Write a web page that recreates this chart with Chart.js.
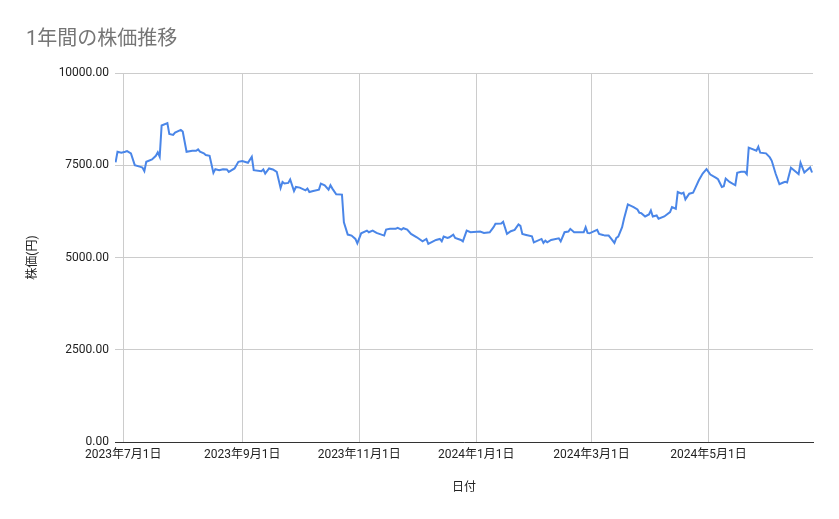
<!DOCTYPE html>
<html>
<head>
<meta charset="utf-8">
<script src="https://cdn.jsdelivr.net/npm/chart.js@4/dist/chart.umd.min.js"></script>
<style>
  html, body { margin: 0; padding: 0; background: #ffffff; }
  #wrap { width: 839px; height: 519px; }
</style>
</head>
<body>
<div id="wrap"><canvas id="c" width="839" height="519"></canvas></div>
<script>
const chartTitle = '1年間の株価推移';
const xAxisTitle = '日付';
const yAxisTitle = '株価(円)';

const dates = [
  '2023-06-27','2023-06-28','2023-06-30','2023-07-02','2023-07-03','2023-07-05','2023-07-07','2023-07-10',
  '2023-07-11','2023-07-12','2023-07-13','2023-07-16','2023-07-18','2023-07-19','2023-07-20','2023-07-21',
  '2023-07-24','2023-07-25','2023-07-27','2023-07-28','2023-07-31','2023-08-01','2023-08-03','2023-08-06',
  '2023-08-08','2023-08-09','2023-08-10','2023-08-12','2023-08-13','2023-08-15','2023-08-17','2023-08-18',
  '2023-08-20','2023-08-22','2023-08-24','2023-08-25','2023-08-28','2023-08-30','2023-09-01','2023-09-04',
  '2023-09-06','2023-09-07','2023-09-11','2023-09-12','2023-09-13','2023-09-15','2023-09-17','2023-09-19',
  '2023-09-21','2023-09-22','2023-09-23','2023-09-25','2023-09-26','2023-09-28','2023-09-29','2023-10-01',
  '2023-10-04','2023-10-05','2023-10-06','2023-10-08','2023-10-11','2023-10-12','2023-10-14','2023-10-16',
  '2023-10-17','2023-10-18','2023-10-20','2023-10-23','2023-10-24','2023-10-26','2023-10-28','2023-10-30',
  '2023-10-31','2023-11-02','2023-11-05','2023-11-06','2023-11-08','2023-11-10','2023-11-14','2023-11-15',
  '2023-11-17','2023-11-20','2023-11-21','2023-11-23','2023-11-24','2023-11-26','2023-11-28','2023-12-01',
  '2023-12-04','2023-12-06','2023-12-07','2023-12-11','2023-12-13','2023-12-14','2023-12-15','2023-12-17',
  '2023-12-18','2023-12-20','2023-12-21','2023-12-24','2023-12-25','2023-12-27','2023-12-29','2024-01-03',
  '2024-01-05','2024-01-08','2024-01-10','2024-01-11','2024-01-14','2024-01-15','2024-01-17','2024-01-19',
  '2024-01-21','2024-01-23','2024-01-24','2024-01-25','2024-01-27','2024-01-30','2024-01-31','2024-02-04',
  '2024-02-05','2024-02-06','2024-02-07','2024-02-09','2024-02-13','2024-02-14','2024-02-16','2024-02-18',
  '2024-02-19','2024-02-21','2024-02-26','2024-02-27','2024-02-28','2024-02-29','2024-03-04','2024-03-05',
  '2024-03-07','2024-03-08','2024-03-10','2024-03-11','2024-03-13','2024-03-14','2024-03-15','2024-03-17',
  '2024-03-18','2024-03-20','2024-03-23','2024-03-25','2024-03-26','2024-03-27','2024-03-29','2024-03-31',
  '2024-04-01','2024-04-02','2024-04-04','2024-04-05','2024-04-08','2024-04-11','2024-04-12','2024-04-14',
  '2024-04-15','2024-04-17','2024-04-18','2024-04-19','2024-04-21','2024-04-23','2024-04-24','2024-04-26',
  '2024-04-28','2024-04-30','2024-05-02','2024-05-05','2024-05-06','2024-05-08','2024-05-09','2024-05-10',
  '2024-05-12','2024-05-15','2024-05-16','2024-05-18','2024-05-20','2024-05-21','2024-05-22','2024-05-26',
  '2024-05-27','2024-05-28','2024-05-31','2024-06-02','2024-06-03','2024-06-05','2024-06-07','2024-06-09',
  '2024-06-10','2024-06-11','2024-06-13','2024-06-16','2024-06-17','2024-06-18','2024-06-20','2024-06-21',
  '2024-06-23','2024-06-24'
];

const prices = [
  7577,7866,7840,7866,7885,7822,7503,7457,
  7440,7340,7594,7659,7757,7850,7730,8576,
  8641,8349,8322,8385,8458,8412,7866,7894,
  7894,7931,7866,7822,7776,7757,7294,7394,
  7367,7394,7386,7321,7413,7594,7612,7566,
  7730,7367,7340,7386,7276,7413,7386,7321,
  6884,7049,7004,7021,7113,6803,6912,6894,
  6821,6867,6776,6803,6840,7004,6958,6840,
  6958,6867,6712,6704,5956,5621,5594,5503,
  5384,5656,5730,5684,5730,5666,5594,5757,
  5776,5776,5803,5757,5794,5757,5639,5548,
  5438,5503,5367,5476,5503,5438,5566,5530,
  5548,5621,5530,5476,5438,5730,5684,5703,
  5666,5684,5821,5913,5921,5967,5639,5712,
  5748,5894,5857,5639,5612,5575,5411,5503,
  5394,5457,5411,5476,5520,5438,5684,5703,
  5776,5684,5684,5821,5666,5656,5748,5639,
  5612,5594,5594,5530,5394,5530,5566,5821,
  6049,6439,6366,6303,6213,6202,6112,6166,
  6276,6112,6139,6049,6112,6230,6366,6321,
  6776,6730,6758,6576,6730,6758,6867,7094,
  7276,7394,7249,7158,7121,6912,6930,7140,
  7049,6958,7294,7321,7321,7258,7976,7894,
  8003,7840,7822,7713,7621,7276,6985,7031,
  7049,7031,7430,7303,7258,7566,7303,7348,
  7440,7303
];

const xTickDates = ['2023-07-01','2023-09-01','2023-11-01','2024-01-01','2024-03-01','2024-05-01'];
const yTicks = [0, 2500, 5000, 7500, 10000];
const xRangeDates = ['2023-06-27','2024-06-24'];

const DAY = 86400000;
const ORIGIN = Date.UTC(2023, 6, 1);
function toDay(s) {
  const p = s.split('-').map(Number);
  return (Date.UTC(p[0], p[1] - 1, p[2]) - ORIGIN) / DAY;
}
function fmtDate(v) {
  const d = new Date(ORIGIN + Math.round(v) * DAY);
  return d.getUTCFullYear() + '年' + (d.getUTCMonth() + 1) + '月' + d.getUTCDate() + '日';
}

const points = dates.map((s, i) => ({ x: toDay(s), y: prices[i] }));
const FONT = "Roboto, 'Noto Sans CJK JP', sans-serif";

new Chart(document.getElementById('c'), {
  type: 'line',
  data: {
    datasets: [{
      data: points,
      borderColor: '#4a86e8',
      borderWidth: 2,
      pointRadius: 0,
      tension: 0,
      fill: false
    }]
  },
  options: {
    responsive: false,
    animation: false,
    devicePixelRatio: 1,
    layout: { padding: { left: 26, right: 26, top: 0, bottom: 17 } },
    plugins: {
      legend: { display: false },
      tooltip: { enabled: false },
      title: {
        display: true,
        text: chartTitle,
        align: 'start',
        color: '#757575',
        font: { family: FONT, size: 20, weight: 'normal' },
        padding: { top: 28, bottom: 21 }
      }
    },
    scales: {
      x: {
        type: 'linear',
        min: toDay(xRangeDates[0]) - 0.3,
        max: toDay(xRangeDates[1]) + 0.5,
        afterBuildTicks: (scale) => {
          scale.ticks = xTickDates.map(s => ({ value: toDay(s) }));
        },
        afterFit: (scale) => { scale.height = 60; },
        ticks: {
          autoSkip: false,
          maxRotation: 0,
          padding: 6,
          color: '#222222',
          font: { family: FONT, size: 12 },
          callback: (v) => fmtDate(v)
        },
        grid: { color: '#cccccc', drawTicks: false, lineWidth: 1 },
        border: { display: true, color: '#333333', width: 1 },
        title: {
          display: true,
          text: xAxisTitle,
          color: '#222222',
          font: { family: FONT, size: 12 },
          padding: { top: 0, bottom: 7 }
        }
      },
      y: {
        min: yTicks[0],
        max: yTicks[yTicks.length - 1],
        afterBuildTicks: (scale) => {
          scale.ticks = yTicks.map(v => ({ value: v }));
        },
        afterFit: (scale) => { scale.width = 89; },
        ticks: {
          padding: 6,
          color: '#222222',
          font: { family: FONT, size: 12 },
          callback: (v) => Number(v).toFixed(2)
        },
        grid: { color: '#cccccc', drawTicks: false, lineWidth: 1 },
        border: { display: false },
        title: {
          display: true,
          text: yAxisTitle,
          color: '#222222',
          font: { family: FONT, size: 12 },
          padding: { top: 0, bottom: 0 }
        }
      }
    }
  }
});
</script>
</body>
</html>
